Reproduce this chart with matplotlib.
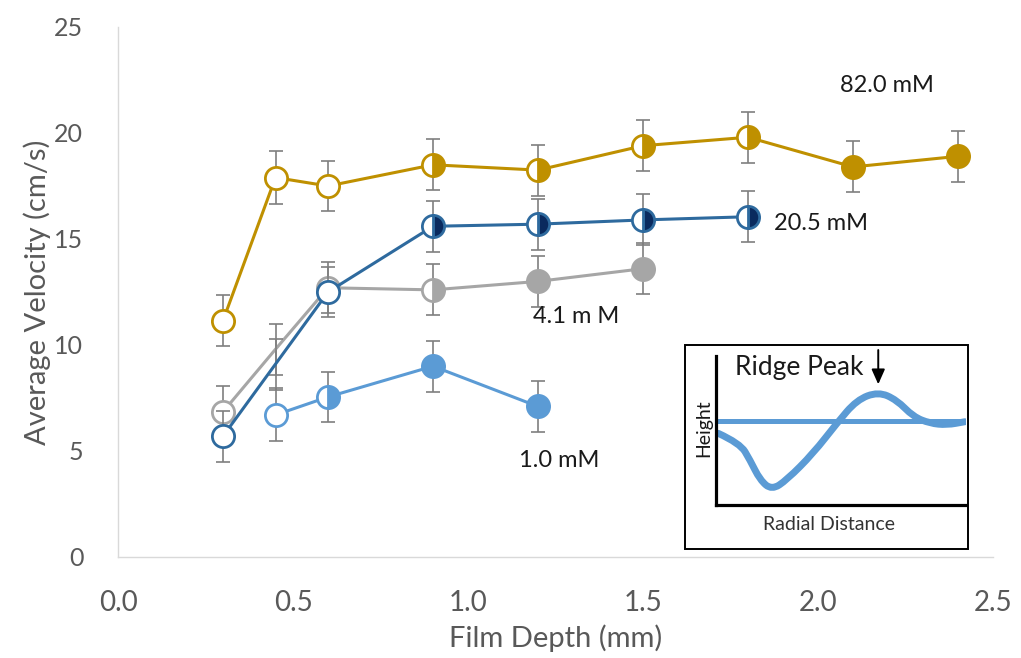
import matplotlib
matplotlib.use("Agg")
import matplotlib.pyplot as plt
from matplotlib.patches import Rectangle, PathPatch
from matplotlib.path import Path

plt.rcParams['font.family'] = ['Lato', 'DejaVu Sans']

# Film depth (mm) and average velocity (cm/s) for each concentration
depth_82 = [0.3, 0.45, 0.6, 0.9, 1.2, 1.5, 1.8, 2.1, 2.4]
vel_82 = [11.15, 17.9, 17.5, 18.5, 18.25, 19.4, 19.8, 18.4, 18.9]
err_82 = [1.2, 1.25, 1.2, 1.2, 1.2, 1.2, 1.2, 1.2, 1.2]

depth_205 = [0.3, 0.45, 0.6, 0.9, 1.2, 1.5, 1.8]
vel_205 = [5.7, 9.1, 12.5, 15.6, 15.7, 15.9, 16.05]
err_205 = [1.2, 1.2, 1.2, 1.2, 1.2, 1.2, 1.2]

depth_41 = [0.3, 0.45, 0.6, 0.9, 1.2, 1.5]
vel_41 = [6.85, 9.8, 12.7, 12.6, 13.0, 13.6]
err_41 = [1.2, 1.2, 1.2, 1.2, 1.2, 1.2]

depth_10 = [0.45, 0.6, 0.9, 1.2]
vel_10 = [6.7, 7.55, 9.0, 7.1]
err_10 = [1.25, 1.2, 1.2, 1.2]

labels = ["82.0 mM", "20.5 mM", "4.1 m M", "1.0 mM"]
x_ticks = [0.0, 0.5, 1.0, 1.5, 2.0, 2.5]
y_ticks = [0, 5, 10, 15, 20, 25]

# Schematic height profile for the inset (arbitrary units)
profile_x = [0.9, 9.6, 13.6, 17.6, 22.3, 28.3, 38.9, 48.3, 56.3, 64.9, 72.3, 78.9, 85.6, 92.3, 99.6]
profile_y = [48.1, 41.4, 30.2, 16.8, 10.1, 16.8, 34.7, 54.8, 70.5, 76.0, 70.5, 59.3, 54.8, 53.7, 55.9]
baseline_x = [0.0, 100.0]
baseline_y = [56.4, 56.4]
peak_x = 64.9

# Marker fill per point: 'o' open, 'h' half, 'f' full, '-' no marker
fill_82 = ['o', 'o', 'o', 'h', 'h', 'h', 'h', 'f', 'f']
fill_205 = ['o', '-', 'o', 'h', 'h', 'h', 'h']
fill_41 = ['o', '-', 'o', 'h', 'f', 'f']
fill_10 = ['o', 'h', 'f', 'f']

GOLD = '#BF9000'
BLUE = '#2E6A9E'
NAVY = '#0A2A5E'
GRAY = '#A6A6A6'
LBLUE = '#5B9BD5'
TXT = '#595959'

fig = plt.figure(figsize=(10.21, 6.58), dpi=100)
ax = fig.add_axes([118 / 1021, 101 / 658, 875 / 1021, 530 / 658])


def draw_series(x, y, e, fills, line_c, fill_c, z):
    ax.errorbar(x, y, yerr=e, fmt='none', ecolor='#7F7F7F', elinewidth=1.2,
                capsize=5, capthick=1.2, zorder=z)
    ax.plot(x, y, color=line_c, lw=2.2, zorder=z + 0.1, solid_capstyle='round')
    common = dict(linestyle='none', marker='o', markersize=16,
                  markeredgewidth=2, markeredgecolor=line_c, zorder=z + 0.2)
    for xi, yi, f in zip(x, y, fills):
        if f == 'o':
            ax.plot([xi], [yi], markerfacecolor='white', **common)
        elif f == 'h':
            ax.plot([xi], [yi], fillstyle='right', markerfacecolor=fill_c,
                    markerfacecoloralt='white', **common)
        elif f == 'f':
            ax.plot([xi], [yi], markerfacecolor=fill_c, **common)


draw_series(depth_10, vel_10, err_10, fill_10, LBLUE, LBLUE, 2)
draw_series(depth_41, vel_41, err_41, fill_41, GRAY, GRAY, 3)
draw_series(depth_205, vel_205, err_205, fill_205, BLUE, NAVY, 4)
draw_series(depth_82, vel_82, err_82, fill_82, GOLD, GOLD, 5)

ax.set_xlim(0, 2.5)
ax.set_ylim(0, 25)
ax.set_xticks(x_ticks)
ax.set_xticklabels([f"{v:.1f}" for v in x_ticks])
ax.set_yticks(y_ticks)
ax.set_yticklabels([str(v) for v in y_ticks])
ax.tick_params(axis='both', length=0, colors=TXT)
ax.tick_params(axis='x', labelsize=20, pad=24)
ax.tick_params(axis='y', labelsize=18, pad=25)
for s in ['top', 'right']:
    ax.spines[s].set_visible(False)
for s in ['left', 'bottom']:
    ax.spines[s].set_color('#D9D9D9')
    ax.spines[s].set_linewidth(1.0)
ax.set_xlabel("Film Depth (mm)", fontsize=21, color=TXT, labelpad=6)
ax.set_ylabel("Average Velocity (cm/s)", fontsize=21, color=TXT, labelpad=2)

ann = dict(fontsize=17, color='#1A1A1A', ha='center', va='center')
ax.text(2.197, 22.26, labels[0], **ann)
ax.text(2.01, 15.74, labels[1], **ann)
ax.text(1.308, 11.33, labels[2], **ann)
ax.text(1.26, 4.55, labels[3], **ann)

# Inset: schematic of the surface profile
fig.patches.append(Rectangle((685 / 1021, 109 / 658), 283 / 1021, 204 / 658,
                             transform=fig.transFigure, facecolor='white',
                             edgecolor='black', lw=1.4, zorder=10))
ins = fig.add_axes([716 / 1021, 153 / 658, 250 / 1021, 149 / 658], zorder=11)
ins.patch.set_alpha(0)
ins.set_xlim(0, 100)
ins.set_ylim(0, 100)
ins.set_xticks([])
ins.set_yticks([])
for s in ['top', 'right']:
    ins.spines[s].set_visible(False)
for s in ['left', 'bottom']:
    ins.spines[s].set_color('black')
    ins.spines[s].set_linewidth(2.3)

ins.plot(baseline_x, baseline_y, color=LBLUE, lw=3.6, solid_capstyle='butt')
pts = list(zip(profile_x, profile_y))
verts = [pts[0]]
codes = [Path.MOVETO]
for i in range(1, len(pts) - 1):
    mid = ((pts[i][0] + pts[i + 1][0]) / 2, (pts[i][1] + pts[i + 1][1]) / 2)
    verts += [pts[i], mid]
    codes += [Path.CURVE3, Path.CURVE3]
verts.append(pts[-1])
codes.append(Path.LINETO)
ins.add_patch(PathPatch(Path(verts, codes), facecolor='none', edgecolor=LBLUE,
                        lw=5.0, capstyle='round', joinstyle='round'))

ins.annotate("", xy=(peak_x, 81), xytext=(peak_x, 104),
             arrowprops=dict(arrowstyle='-|>,head_length=0.9,head_width=0.4',
                             color='black', lw=1.4, shrinkA=0, shrinkB=0),
             annotation_clip=False)
ins.text(7.6, 87.2, "Ridge Peak", fontsize=19, color='#1A1A1A', ha='left', va='baseline')
ins.text(-5.1, 51.5, "Height", fontsize=14, color='#1A1A1A', rotation=90,
         ha='center', va='center')
ins.text(45.2, -13.4, "Radial Distance", fontsize=14, color='#333333',
         ha='center', va='center')

fig.savefig("out.png", dpi=100, facecolor='white')
